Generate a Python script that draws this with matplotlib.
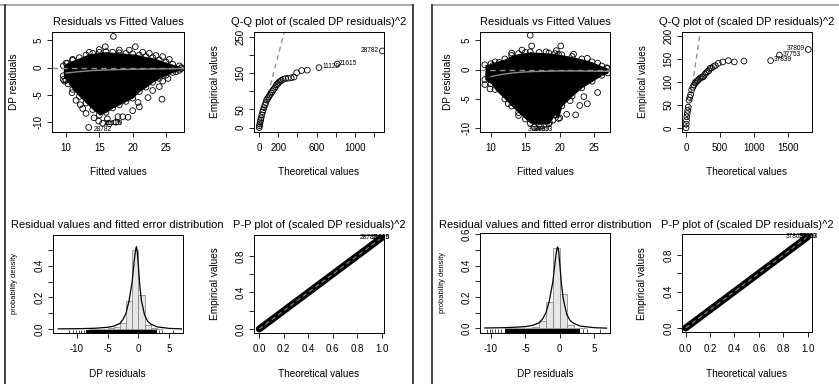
import matplotlib
matplotlib.use("Agg")
import matplotlib.pyplot as plt
from matplotlib.lines import Line2D

plt.rcParams['font.family'] = ['Liberation Sans', 'DejaVu Sans']

# ---------------- data ----------------
# Left block: Residuals vs fitted (envelope of the dense cloud + visible outliers)
l_env_fit = [9.6, 10, 11, 12, 13, 14, 15, 16, 17, 18, 19, 20, 21, 22, 23, 24, 25, 26, 27, 27.3]
l_env_up = [0.3, 0.8, 1.3, 1.8, 2.3, 2.6, 2.8, 2.9, 2.8, 2.7, 2.6, 2.5, 2.3, 2.0, 1.8, 1.4, 1.0, 0.6, 0.3, 0.0]
l_env_lo = [-1.5, -2.3, -4.0, -5.3, -6.5, -7.7, -8.7, -8.2, -7.4, -6.8, -6.2, -5.6, -4.4, -3.6, -2.7, -2.0, -1.4, -0.9, -0.5, -0.2]
l_out_fit = [17.1, 15.9, 20.4, 10.9, 12.15, 24.4, 13.4, 14.9, 15.5, 16.5, 17.5, 18.5, 19.3, 20.0, 21.0, 22.3, 23.0,
             24.0, 24.5, 25.3, 13.0, 12.5, 11.5, 10.3, 9.6, 9.8, 26.5, 13.5, 15.0, 18.0, 19.5, 21.5, 22.5, 23.5,
             24.5, 25.5, 11.0, 10.2, 14.2, 16.2, 17.8, 20.8]
l_out_res = [5.7, 3.8, 3.8, -4.6, -6.8, -5.8, -10.95, -9.8, -10.2, -10.3, -10.0, -9.0, -9.1, -7.9, -7.2, -5.5, -4.2,
             -3.5, -2.5, -2.0, -8.4, -7.5, -6.0, -3.0, -2.2, -2.5, -0.8, 2.8, 3.3, 3.2, 3.2, 2.8, 2.6, 2.2,
             2.0, 1.5, 1.5, 0.8, -9.2, -9.4, -9.0, -6.4]
l_smooth_fit = [10, 12, 14, 16, 18, 20, 22, 24, 26, 27]
l_smooth_res = [-1.0, -0.75, -0.55, -0.45, -0.38, -0.32, -0.28, -0.25, -0.22, -0.2]

# Left block: Q-Q of squared scaled residuals
l_qq_theo = [0, 3, 6, 10, 15, 20, 27, 35, 42, 50, 60, 70, 77, 88, 100, 112, 125, 137, 147, 160, 172, 182, 195,
             205, 217, 232, 252, 275, 304, 335, 364, 392, 444, 503, 626, 818, 1290]
l_qq_emp = [0, 5, 10, 16, 21, 27, 35, 43, 49, 55, 62, 69, 76, 80, 85, 90, 95, 99, 104, 108, 113, 118, 121,
            124, 127, 130, 133, 135, 136, 137, 139, 151, 157, 158, 165, 175, 211]

# Left block: histogram + fitted density
l_hist_left = [-8, -7, -6, -5, -4, -3, -2, -1, 0, 1, 2, 3]
l_hist_h = [0.001, 0.001, 0.002, 0.004, 0.012, 0.040, 0.175, 0.500, 0.217, 0.023, 0.004, 0.001]
l_dens_x = [-13, -10, -7, -5, -4, -3, -2.5, -2, -1.5, -1, -0.75, -0.55, -0.4, -0.3, -0.15, 0, 0.25, 0.5, 1, 1.5,
            2, 3, 5, 7]
l_dens_y = [0.001, 0.002, 0.005, 0.011, 0.018, 0.035, 0.06, 0.10, 0.18, 0.30, 0.40, 0.47, 0.51, 0.52, 0.48,
            0.40, 0.27, 0.18, 0.09, 0.05, 0.032, 0.014, 0.004, 0.001]
l_rug_band = [-8.5, 3.0]
l_rug_sparse = [-11.2, -10.6, -10.1, -9.7, -9.3, -8.9, 3.4, 3.9, 5.7]

# Left block: P-P
l_pp_theo = [0.0, 0.1, 0.2, 0.3, 0.4, 0.5, 0.6, 0.7, 0.8, 0.9, 1.0]
l_pp_emp = [0.0, 0.1, 0.2, 0.3, 0.4, 0.5, 0.6, 0.7, 0.8, 0.9, 1.0]

# Right block: Residuals vs fitted
r_env_fit = [9.1, 10, 10.6, 12, 13, 14, 15, 15.7, 17, 18.4, 19.3, 19.8, 20.3, 21.8, 23.2, 24.7, 26.1, 27.0]
r_env_up = [0.8, 1.0, 1.3, 1.8, 2.4, 2.7, 2.9, 3.0, 2.9, 2.8, 2.7, 2.6, 2.5, 2.2, 1.8, 1.3, 0.6, 0.2]
r_env_lo = [-1.7, -2.4, -3.4, -5.0, -6.2, -7.3, -8.4, -9.1, -9.3, -9.2, -7.7, -8.3, -6.2, -4.5, -3.1, -2.0, -1.0, -0.6]
r_out_fit = [15.7, 15.9, 20.15, 22.9, 22.3, 24.0, 25.5, 9.1, 9.86, 18.5, 19.0, 20.0, 21.0, 17.2, 16.3, 13.0,
             14.5, 18.0, 19.5, 22.0, 24.0, 25.5, 26.8, 21.5, 23.5, 10.3, 11.2, 12.5, 14.0]
r_out_res = [5.8, 4.0, 4.0, -6.1, -7.7, -5.8, -3.9, -2.55, -3.3, -9.0, -8.6, -8.2, -7.6, -9.6, -9.8, 2.8,
             3.3, 3.0, 3.2, 2.6, 1.9, 1.1, 0.3, -5.3, -4.6, 0.7, 1.2, -5.8, -7.8]
r_smooth_fit = [10, 11.5, 13, 14.5, 16, 18, 20, 22, 24, 26, 27]
r_smooth_res = [-1.2, -0.85, -0.6, -0.45, -0.35, -0.3, -0.25, -0.25, -0.27, -0.3, -0.3]

# Right block: Q-Q
r_qq_theo = [0, 3, 7, 12, 18, 24, 32, 44, 55, 68, 83, 100, 117, 135, 150, 165, 181, 200, 220, 240, 254, 275,
             295, 313, 335, 352, 375, 401, 430, 474, 538, 621, 709, 850, 1241, 1370, 1794]
r_qq_emp = [0, 8, 16, 24, 31, 38, 45, 60, 66, 72, 82, 88, 93, 97, 100, 102, 104, 107, 109, 110, 111, 116,
            119, 122, 124, 129, 130, 133, 135, 140, 143, 146, 143, 145, 146, 158, 170]

# Right block: histogram + density
r_hist_left = [-8, -7, -6, -5, -4, -3, -2, -1, 0, 1, 2, 3]
r_hist_h = [0.001, 0.001, 0.002, 0.004, 0.010, 0.044, 0.167, 0.512, 0.222, 0.023, 0.005, 0.001]
r_dens_x = [-10.9, -8, -6, -5, -4, -3, -2.5, -2, -1.5, -1, -0.75, -0.55, -0.4, -0.3, -0.15, 0, 0.25, 0.5, 1,
            1.5, 2, 3, 5, 6.8]
r_dens_y = [0.002, 0.004, 0.008, 0.011, 0.018, 0.035, 0.06, 0.10, 0.18, 0.30, 0.40, 0.47, 0.51, 0.52, 0.49,
            0.41, 0.28, 0.19, 0.09, 0.05, 0.032, 0.014, 0.004, 0.001]
r_rug_band = [-8.0, 3.0]
r_rug_sparse = [-10.6, -10.2, -9.8, -9.4, -9.0, -8.6, 3.4, 3.9, 5.8]

# Right block: P-P
r_pp_theo = [0.0, 0.1, 0.2, 0.3, 0.4, 0.5, 0.6, 0.7, 0.8, 0.9, 1.0]
r_pp_emp = [0.0, 0.1, 0.2, 0.3, 0.4, 0.5, 0.6, 0.7, 0.8, 0.9, 1.0]

# ---------------- figure ----------------
W, H = 839, 384
fig = plt.figure(figsize=(W / 100, H / 100), dpi=100)

TICK_FS = 7.0
LAB_FS = 7.2
TITLE_FS = 8.0
GRAY = '#8a8a8a'
MS = 17


def px_axes(l, t, r, b):
    return fig.add_axes([l / W, 1 - b / H, (r - l) / W, (b - t) / H])


def ftext(x, y, s, **kw):
    fig.text(x / W, 1 - y / H, s, **kw)


def style(ax, xlim, ylim, xticks, xlabels, yticks, ylabels):
    ax.set_xlim(*xlim)
    ax.set_ylim(*ylim)
    for sp in ax.spines.values():
        sp.set_linewidth(0.7)
        sp.set_color('black')
    ax.set_xticks(xticks)
    ax.set_xticklabels(xlabels)
    ax.set_yticks(yticks)
    ax.set_yticklabels(ylabels, rotation=90, va='center')
    ax.tick_params(direction='out', length=3.6, width=0.6, labelsize=TICK_FS, colors='black')
    ax.tick_params(axis='x', pad=4.5)
    ax.tick_params(axis='y', pad=2.5)
    ax.set_facecolor('white')


def resid_plot(rect, xlim, ylim, env_f, env_u, env_l, out_f, out_r, sm_f, sm_r, lab_specs, title_xy, ylab_x):
    ax = px_axes(*rect)
    ax.fill_between(env_f, env_l, env_u, color='black', lw=0)
    ax.scatter(env_f, env_u, s=MS, facecolors='none', edgecolors='black', linewidths=0.6)
    ax.scatter(env_f, env_l, s=MS, facecolors='none', edgecolors='black', linewidths=0.6)
    ax.scatter(out_f, out_r, s=MS, facecolors='none', edgecolors='black', linewidths=0.6)
    ax.axhline(0, color=GRAY, lw=1.0, ls=(0, (4, 3)))
    ax.plot(sm_f, sm_r, color=GRAY, lw=1.0)
    for (x, y, s) in lab_specs:
        ax.text(x, y, s, fontsize=4.8, ha='left', va='center', clip_on=False)
    style(ax, xlim, ylim, [10, 15, 20, 25], ['10', '15', '20', '25'],
          [-10, -5, 0, 5], ['-10', '-5', '0', '5'])
    l, t, r, b = rect
    ftext(title_xy[0], title_xy[1], 'Residuals vs Fitted Values', fontsize=TITLE_FS, ha='center', va='center')
    ftext((l + r) / 2, 172, 'Fitted values', fontsize=LAB_FS, ha='center', va='center')
    ftext(ylab_x, (t + b) / 2, 'DP residuals', fontsize=LAB_FS, ha='center', va='center', rotation=90)
    return ax


def qq_plot(rect, xlim, ylim, th, em, xticks, xlabels, yticks, ylabels, labels, title_x, ylab_x):
    ax = px_axes(*rect)
    ax.plot([0, 400], [0, 400], color=GRAY, lw=0.9, ls=(0, (4, 3)))
    ax.scatter(th, em, s=MS, facecolors='none', edgecolors='black', linewidths=0.6, zorder=3)
    for (i, s, ha, dx) in labels:
        ax.annotate(s, (th[i], em[i]), xytext=(dx, 0.5), textcoords='offset points', fontsize=4.8,
                    ha=ha, va='center', annotation_clip=False)
    style(ax, xlim, ylim, xticks, xlabels, yticks, ylabels)
    l, t, r, b = rect
    ftext(title_x, 22, 'Q-Q plot of (scaled DP residuals)^2', fontsize=TITLE_FS, ha='center', va='center')
    ftext((l + r) / 2, 172, 'Theoretical values', fontsize=LAB_FS, ha='center', va='center')
    ftext(ylab_x, (t + b) / 2, 'Empirical values', fontsize=LAB_FS, ha='center', va='center', rotation=90)
    return ax


def hist_plot(rect, xlim, ylim, hl, hh, dx_, dy_, rug_band, rug_sparse, yticks, ylabels, title_x, ylab_x):
    ax = px_axes(*rect)
    ax.bar(hl, hh, width=1.0, align='edge', color='#e6e6e6', edgecolor='#7a7a7a', linewidth=0.5, zorder=2)
    ax.plot(dx_, dy_, color='black', lw=0.9, zorder=3)
    tr = ax.get_xaxis_transform()
    ax.fill_between(rug_band, [0, 0], [0.035, 0.035], transform=tr, color='black', lw=0, zorder=3)
    ax.vlines(rug_sparse, 0, 0.035, transform=tr, color='black', lw=0.5, zorder=3)
    style(ax, xlim, ylim, [-10, -5, 0, 5], ['-10', '-5', '0', '5'], yticks, ylabels)
    l, t, r, b = rect
    ftext(title_x, 225, 'Residual values and fitted error distribution', fontsize=TITLE_FS, ha='center',
          va='center')
    ftext((l + r) / 2, 374, 'DP residuals', fontsize=LAB_FS, ha='center', va='center')
    ftext(ylab_x, (t + b) / 2, 'probability density', fontsize=5.4, ha='center', va='center', rotation=90)
    return ax


def pp_plot(rect, xlim, ylim, th, em, labels, title_x, ylab_x):
    ax = px_axes(*rect)
    ax.plot(th, em, color='black', lw=5.0, solid_capstyle='round', zorder=2)
    ax.plot([0, 1], [0, 1], color=GRAY, lw=0.8, ls=(0, (4, 3)), zorder=3)
    for (x, y, s) in labels:
        ax.text(x, y, s, fontsize=4.8, ha='left', va='center', clip_on=False, zorder=4)
    style(ax, xlim, ylim, [0, 0.2, 0.4, 0.6, 0.8, 1.0], ['0.0', '0.2', '0.4', '0.6', '0.8', '1.0'],
          [0, 0.2, 0.4, 0.6, 0.8], ['0.0', '', '0.4', '', '0.8'])
    l, t, r, b = rect
    ftext(title_x, 225, 'P-P plot of (scaled DP residuals)^2', fontsize=TITLE_FS, ha='center', va='center')
    ftext((l + r) / 2, 374, 'Theoretical values', fontsize=LAB_FS, ha='center', va='center')
    ftext(ylab_x, (t + b) / 2, 'Empirical values', fontsize=LAB_FS, ha='center', va='center', rotation=90)
    return ax


# ---- left block ----
resid_plot((52, 32, 184, 132), (7.9, 27.7), (-11.8, 6.5), l_env_fit, l_env_up, l_env_lo, l_out_fit, l_out_res,
           l_smooth_fit, l_smooth_res,
           [(14.2, -11.4, '28782'), (15.6, -10.3, '21615'), (15.9, -10.2, '11129')], (118, 22), 14)
qq_plot((254, 32, 384, 132), (-55, 1307), (-12, 263), l_qq_theo, l_qq_emp,
        [0, 200, 400, 600, 800, 1000, 1200], ['0', '200', '', '600', '', '1000', ''],
        [0, 50, 100, 150, 200, 250], ['0', '50', '', '150', '', '250'],
        [(34, '11129', 'left', 2.5), (35, '21615', 'left', 1.0), (36, '28782', 'right', -2.5)], 319, 215)
hist_plot((52.7, 234.7, 182.7, 333), (-13.9, 7.2), (-0.025, 0.596), l_hist_left, l_hist_h, l_dens_x, l_dens_y,
          l_rug_band, l_rug_sparse, [0, 0.1, 0.2, 0.3, 0.4, 0.5], ['0.0', '', '0.2', '', '0.4', ''], 117, 15)
pp_plot((254, 234.7, 384, 333), (-0.043, 1.02), (-0.044, 1.033), l_pp_theo, l_pp_emp,
        [(0.82, 1.0, '28782'), (0.92, 1.0, '21615'), (0.925, 1.0, '11129')], 319, 215)

# ---- right block ----
resid_plot((480, 32, 610, 132), (8.4, 27.3), (-10.6, 6.36), r_env_fit, r_env_up, r_env_lo, r_out_fit, r_out_res,
           r_smooth_fit, r_smooth_res,
           [(15.3, -10.15, '37809'), (16.0, -10.1, '37839'), (16.4, -10.1, '37753')], (545, 22), 448)
qq_plot((682, 32, 812, 132), (-59, 1848), (-9, 208), r_qq_theo, r_qq_emp,
        [0, 500, 1000, 1500], ['0', '500', '1000', '1500'],
        [0, 50, 100, 150, 200], ['0', '50', '100', '150', '200'],
        [(34, '37839', 'left', 2.5), (35, '37753', 'left', 2.5), (36, '37809', 'right', -2.5)], 747, 643)
hist_plot((480, 232.7, 610, 333), (-11.6, 7.3), (-0.03, 0.611), r_hist_left, r_hist_h, r_dens_x, r_dens_y,
          r_rug_band, r_rug_sparse, [0, 0.1, 0.2, 0.3, 0.4, 0.5, 0.6], ['0.0', '', '0.2', '', '0.4', '', '0.6'],
          545, 443)
pp_plot((682, 234.3, 812, 332.3), (-0.03, 1.035), (-0.047, 1.027), r_pp_theo, r_pp_emp,
        [(0.82, 1.0, '37809'), (0.93, 1.0, '37839'), (0.935, 1.0, '37753')], 747, 642)

# ---- panel frames ----
def fline(xs, ys, color, lw):
    fig.add_artist(Line2D([x / W for x in xs], [1 - y / H for y in ys], color=color, lw=lw))

fline([0, 412.5], [5, 5], '#9a9a9a', 1.2)
fline([4.5, 4.5], [5, 384], '#222222', 1.2)
fline([412.5, 412.5], [5, 384], '#222222', 1.2)
fline([431.5, 839], [5, 5], '#9a9a9a', 1.2)
fline([431.5, 431.5], [5, 384], '#222222', 1.2)

fig.savefig('out.png', dpi=100)
